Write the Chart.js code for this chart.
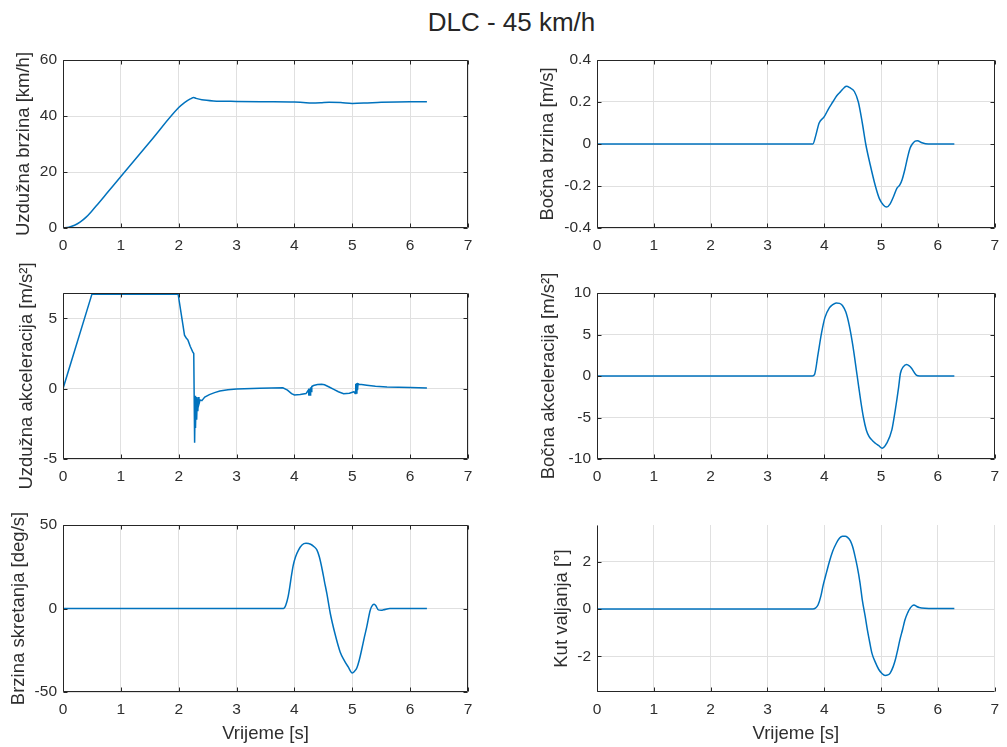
<!DOCTYPE html>
<html>
<head>
<meta charset="utf-8">
<script src="https://cdn.jsdelivr.net/npm/chart.js@4/dist/chart.umd.min.js"></script>
<style>
  html, body { margin: 0; padding: 0; background: #ffffff; }
  body { width: 1007px; height: 747px; position: relative; overflow: hidden; font-family: "Liberation Sans", Arial, Helvetica, sans-serif; }
  canvas { position: absolute; }
  #title { position: absolute; left: 511.5px; top: 9px; transform: translateX(-50%); font-size: 26px; line-height: 26px; color: #262626; white-space: nowrap; }
</style>
</head>
<body>
<div id="title">DLC - 45 km/h</div>
<canvas id="c1" width="485" height="210" style="left:0px;top:40px"></canvas>
<canvas id="c2" width="507" height="210" style="left:500px;top:40px"></canvas>
<canvas id="c3" width="485" height="250" style="left:0px;top:250px"></canvas>
<canvas id="c4" width="507" height="250" style="left:500px;top:250px"></canvas>
<canvas id="c5" width="485" height="242" style="left:0px;top:505px"></canvas>
<canvas id="c6" width="507" height="242" style="left:500px;top:505px"></canvas>
<script>
// ---------- DATA ----------
const xTicks = [0, 1, 2, 3, 4, 5, 6, 7];

// Uzdužna brzina [km/h]
const tVx = [0, 0.1, 0.2, 0.3, 0.4, 0.5, 0.6, 0.75, 1.0, 1.5, 2.0, 2.1, 2.2, 2.26, 2.3, 2.4, 2.6, 3.0, 3.5, 4.0, 4.15, 4.3, 4.45, 4.6, 4.8, 5.0, 5.2, 5.5, 6.0, 6.29];
const vx  = [0, 0.3, 1.0, 2.2, 3.9, 6.1, 8.5, 12.2, 18.4, 30.7, 43.0, 44.8, 46.1, 46.6, 46.3, 45.8, 45.4, 45.2, 45.1, 45.0, 44.8, 44.6, 44.7, 44.9, 44.8, 44.5, 44.6, 44.9, 45.1, 45.1];
const vxTicks = [0, 20, 40, 60];

// Bočna brzina [m/s]
const tVy = [0, 3.80, 3.85, 3.91, 4.0, 4.08, 4.15, 4.22, 4.29, 4.35, 4.39, 4.45, 4.53, 4.60, 4.67, 4.73, 4.81, 4.90, 4.97, 5.04, 5.10, 5.16, 5.22, 5.28, 5.33, 5.37, 5.42, 5.47, 5.51, 5.55, 5.60, 5.64, 5.72, 5.83, 6.29];
const vy  = [0, 0, 0.04, 0.10, 0.13, 0.17, 0.20, 0.23, 0.25, 0.268, 0.275, 0.268, 0.25, 0.20, 0.10, 0.0, -0.10, -0.20, -0.26, -0.29, -0.30, -0.285, -0.25, -0.21, -0.195, -0.17, -0.12, -0.06, -0.02, 0.0, 0.014, 0.016, 0.006, 0, 0];
const vyTicks = [-0.4, -0.2, 0, 0.2, 0.4];

// Uzdužna akceleracija [m/s^2]
const tAx = [0, 0.5, 1.0, 1.99, 2.07, 2.1, 2.13, 2.16, 2.2, 2.24, 2.26, 2.275, 2.285, 2.29, 2.30, 2.31, 2.32, 2.33, 2.34, 2.35, 2.37, 2.40, 2.45, 2.53, 2.62, 2.71, 2.85, 3.0, 3.4, 3.8, 3.88, 3.95, 4.0, 4.1, 4.2, 4.24, 4.25, 4.26, 4.27, 4.28, 4.29, 4.30, 4.33, 4.40, 4.47, 4.52, 4.6, 4.68, 4.76, 4.85, 4.95, 5.03, 5.05, 5.06, 5.07, 5.08, 5.09, 5.10, 5.12, 5.16, 5.25, 5.4, 5.6, 6.0, 6.29];
const ax  = [0, 6.72, 6.72, 6.72, 4.6, 3.8, 3.6, 3.45, 3.0, 2.63, 2.5, -3.85, -0.5, -2.8, -0.6, -2.2, -0.7, -1.6, -0.6, -1.1, -0.8, -0.85, -0.6, -0.42, -0.28, -0.17, -0.08, -0.02, 0.03, 0.06, -0.1, -0.35, -0.45, -0.42, -0.35, -0.1, -0.5, 0.0, -0.45, 0.1, -0.2, 0.15, 0.22, 0.3, 0.32, 0.28, 0.12, -0.05, -0.22, -0.36, -0.32, -0.22, -0.35, 0.35, -0.3, 0.4, -0.1, 0.35, 0.3, 0.3, 0.25, 0.18, 0.12, 0.08, 0.05];
const axTicks = [-5, 0, 5];

// Bočna akceleracija [m/s^2]
const tAy = [0, 3.79, 3.83, 3.89, 3.95, 4.01, 4.09, 4.15, 4.21, 4.27, 4.32, 4.38, 4.44, 4.50, 4.58, 4.64, 4.69, 4.74, 4.79, 4.85, 4.90, 4.96, 5.02, 5.10, 5.19, 5.25, 5.31, 5.34, 5.39, 5.45, 5.50, 5.54, 5.62, 5.68, 5.77, 6.29];
const ay  = [0, 0, 0.2, 2.6, 5.1, 7.0, 8.2, 8.6, 8.8, 8.75, 8.5, 7.7, 6.1, 3.8, 0.0, -2.9, -5.0, -6.5, -7.3, -7.8, -8.1, -8.4, -8.7, -8.1, -6.5, -4.1, -1.3, 0.3, 1.1, 1.4, 1.2, 0.9, 0.1, 0.0, 0.0, 0.0];
const ayTicks = [-10, -5, 0, 5, 10];

// Brzina skretanja [deg/s]
const tR = [0, 3.81, 3.85, 3.89, 3.92, 3.95, 3.98, 4.02, 4.07, 4.13, 4.2, 4.28, 4.34, 4.39, 4.43, 4.47, 4.52, 4.56, 4.62, 4.70, 4.79, 4.86, 4.93, 5.0, 5.04, 5.08, 5.12, 5.16, 5.21, 5.25, 5.31, 5.35, 5.38, 5.41, 5.45, 5.50, 5.54, 5.65, 6.29];
const r  = [0, 0, 2, 7, 13, 20, 26, 31, 35, 38, 39, 38.5, 37, 35, 31, 25, 16, 9, -3, -15, -26, -31, -35, -38.6, -37.5, -35.5, -31, -25, -17, -11, -1, 2, 2.6, 1.5, -0.8, -1.0, -0.8, 0, 0];
const rTicks = [-50, 0, 50];

// Kut valjanja [°]
const tPhi = [0, 3.80, 3.85, 3.89, 3.94, 3.98, 4.04, 4.09, 4.15, 4.21, 4.27, 4.32, 4.37, 4.41, 4.46, 4.50, 4.54, 4.58, 4.63, 4.67, 4.72, 4.76, 4.80, 4.84, 4.90, 4.96, 5.02, 5.07, 5.12, 5.16, 5.21, 5.25, 5.29, 5.33, 5.38, 5.42, 5.47, 5.51, 5.55, 5.58, 5.62, 5.67, 5.77, 6.29];
const phi  = [0, 0, 0.05, 0.17, 0.55, 1.0, 1.55, 2.0, 2.45, 2.77, 3.0, 3.08, 3.08, 3.03, 2.88, 2.63, 2.25, 1.8, 1.1, 0.38, -0.3, -0.89, -1.4, -1.87, -2.25, -2.55, -2.73, -2.8, -2.78, -2.7, -2.45, -2.15, -1.75, -1.31, -0.85, -0.46, -0.15, 0.03, 0.14, 0.17, 0.12, 0.07, 0.04, 0.02];
const phiTicks = [-2, 0, 2];

// ---------- CHARTS ----------
const FONT = '"Liberation Sans", Arial, Helvetica, sans-serif';
const TXT = '#2e2e2e';
const LINE = '#0072BD';

const boxPlugin = {
  id: 'matlabBox',
  afterDraw(chart, args, opts) {
    const { ctx, chartArea: a, scales } = chart;
    const xs = scales.x, ys = scales.y;
    const L = Math.round(a.left) + 0.5, R = Math.round(a.right) - 0.5;
    const T = Math.round(a.top) + 0.5, B = Math.round(a.bottom) - 0.5;
    ctx.save();
    ctx.strokeStyle = '#262626';
    ctx.lineWidth = 1;
    ctx.beginPath();
    if (opts.box) {
      ctx.rect(L, T, R - L, B - T);
    } else {
      ctx.moveTo(L, T); ctx.lineTo(L, B); ctx.lineTo(R, B);
    }
    const tl = 4;
    xs.ticks.forEach(tk => {
      const px = Math.round(xs.getPixelForValue(tk.value)) + 0.5;
      ctx.moveTo(px, B); ctx.lineTo(px, B - tl);
      if (opts.box) { ctx.moveTo(px, T); ctx.lineTo(px, T + tl); }
    });
    ys.ticks.forEach(tk => {
      const py = Math.round(ys.getPixelForValue(tk.value)) + 0.5;
      ctx.moveTo(L, py); ctx.lineTo(L + tl, py);
      if (opts.box) { ctx.moveTo(R, py); ctx.lineTo(R - tl, py); }
    });
    ctx.stroke();
    ctx.restore();
  }
};

function makeChart(id, tArr, vArr, cfg) {
  const pts = tArr.map((t, i) => ({ x: t, y: vArr[i] }));
  return new Chart(document.getElementById(id), {
    type: 'line',
    data: { datasets: [{ data: pts, borderColor: LINE, borderWidth: 1.5, pointRadius: 0, tension: 0, cubicInterpolationMode: cfg.smooth ? 'monotone' : 'default', fill: false }] },
    plugins: [boxPlugin],
    options: {
      responsive: false,
      animation: false,
      events: [],
      layout: { padding: { left: 0, top: cfg.padTop, right: cfg.padRight, bottom: 0 } },
      plugins: { legend: { display: false }, tooltip: { enabled: false }, matlabBox: { box: cfg.box } },
      scales: {
        x: {
          type: 'linear', min: 0, max: 7,
          afterBuildTicks: s => { s.ticks = xTicks.map(v => ({ value: v })); },
          afterFit: s => { s.height = cfg.xH; },
          grid: { color: '#e0e0e0', drawTicks: false, lineWidth: 1 },
          border: { display: false },
          ticks: { color: TXT, font: { family: FONT, size: 15.5 }, padding: 8, maxRotation: 0, autoSkip: false, callback: v => String(v) },
          title: { display: !!cfg.xTitle, text: cfg.xTitle || '', color: TXT, font: { family: FONT, size: 18.5 }, padding: { top: 0, bottom: 1.5 } }
        },
        y: {
          type: 'linear', min: cfg.yMin, max: cfg.yMax,
          afterBuildTicks: s => { s.ticks = cfg.yTicks.map(v => ({ value: v })); },
          afterFit: s => { s.width = cfg.yW; },
          grid: { color: '#e0e0e0', drawTicks: false, lineWidth: 1 },
          border: { display: false },
          ticks: { color: TXT, font: { family: FONT, size: 15.5 }, padding: 6, autoSkip: false, callback: v => String(v) },
          title: { display: true, text: cfg.yTitle, color: TXT, font: { family: FONT, size: 18.5 }, padding: { top: cfg.yTitlePad, bottom: 0 } }
        }
      }
    }
  });
}

makeChart('c1', tVx, vx, { yMin: 0, yMax: 60, yTicks: vxTicks, yTitle: 'Uzdužna brzina [km/h]', yTitlePad: 12.6, yW: 63, padTop: 20, padRight: 17, xH: 22, box: true, smooth: true });
makeChart('c2', tVy, vy, { yMin: -0.4, yMax: 0.4, yTicks: vyTicks, yTitle: 'Bočna brzina [m/s]', yTitlePad: 36.9, yW: 97, padTop: 20, padRight: 6, xH: 22, box: true, smooth: true });
makeChart('c3', tAx, ax, { yMin: -5, yMax: 6.8, yTicks: axTicks, yTitle: 'Uzdužna akceleracija [m/s²]', yTitlePad: 15.9, yW: 63, padTop: 43, padRight: 17, xH: 41, box: true, smooth: false });
makeChart('c4', tAy, ay, { yMin: -10, yMax: 10, yTicks: ayTicks, yTitle: 'Bočna akceleracija [m/s²]', yTitlePad: 37.6, yW: 97, padTop: 43, padRight: 6, xH: 41, box: true, smooth: true });
makeChart('c5', tR, r, { yMin: -50, yMax: 50, yTicks: rTicks, yTitle: 'Brzina skretanja [deg/s]', yTitlePad: 7.6, yW: 63, padTop: 20, padRight: 17, xH: 55, box: true, smooth: true, xTitle: 'Vrijeme [s]' });
makeChart('c6', tPhi, phi, { yMin: -3.5, yMax: 3.55, yTicks: phiTicks, yTitle: 'Kut valjanja [°]', yTitlePad: 50.9, yW: 97, padTop: 20, padRight: 6, xH: 55, box: false, smooth: true, xTitle: 'Vrijeme [s]' });
</script>
</body>
</html>
